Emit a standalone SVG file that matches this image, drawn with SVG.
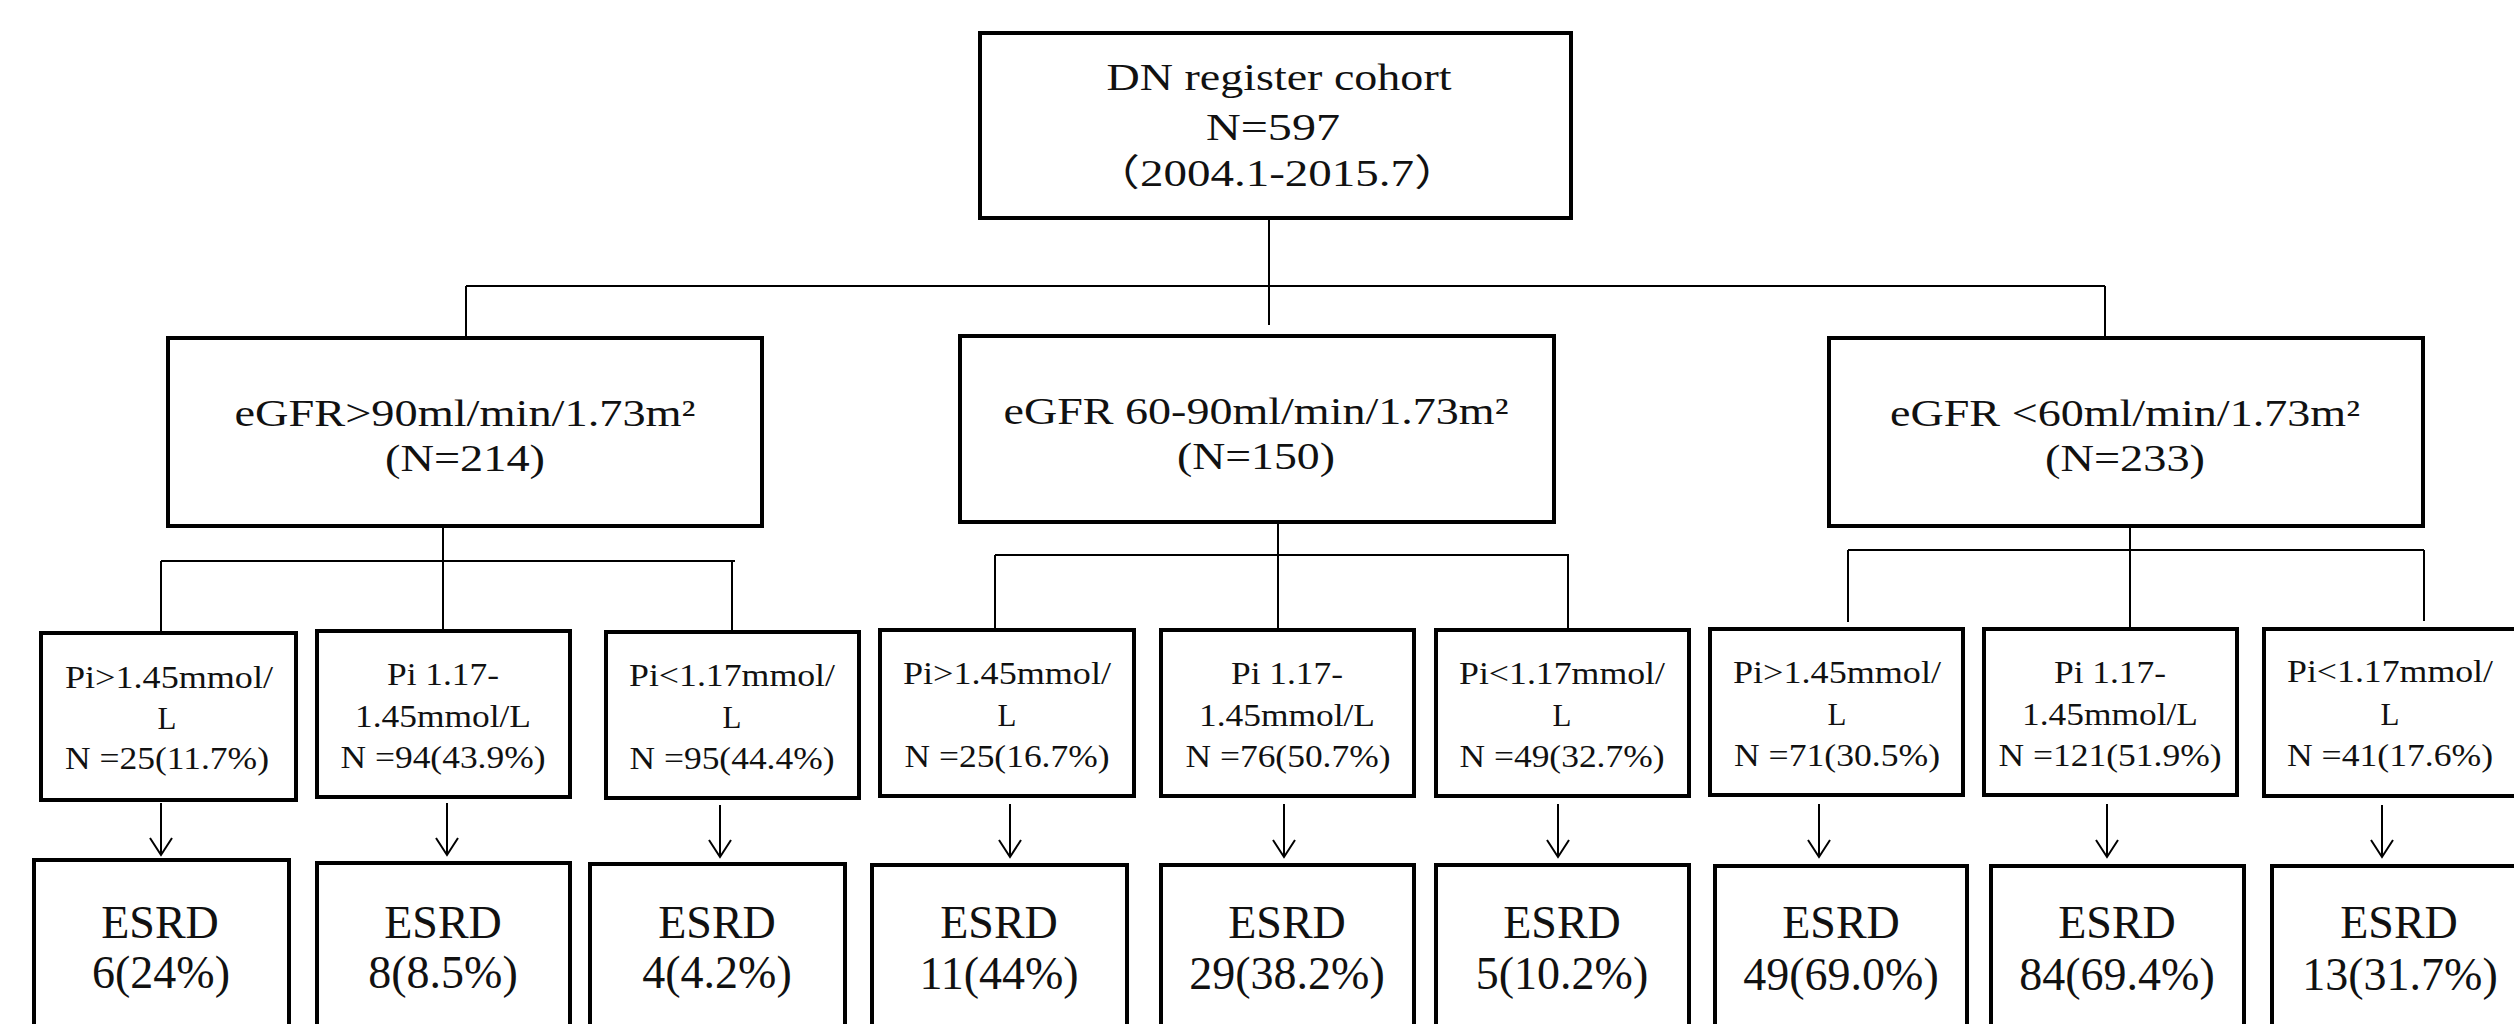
<svg xmlns="http://www.w3.org/2000/svg" width="2514" height="1024" viewBox="0 0 2514 1024">
<style>
.box{fill:#fff;stroke:#000;stroke-width:4}
.ln{fill:none;stroke:#000;stroke-width:2}
.t{font-family:'Liberation Serif','DejaVu Serif','Times New Roman',serif;fill:#111;text-anchor:middle}
.t1{font-size:37px}
.t2{font-size:38px}
.t3{font-size:31px}
.t4{font-size:46px}
</style>
<defs>
<marker id="arr" markerUnits="userSpaceOnUse" markerWidth="26" markerHeight="26" viewBox="-20 -13 24 26" refX="0" refY="0" orient="auto">
<path d="M-17,-11 L0,0 L-17,11" fill="none" stroke="#000" stroke-width="2"/>
</marker>
</defs>
<rect width="2514" height="1024" fill="#fff"/>

<g id="connectors">
<path class="ln" d="M1269,218 V325 M466,286 H2105 M466,286 V337 M2105,286 V337"/>
<path class="ln" d="M443,526 V561 M161,561 H735 M161,561 V631 M443,561 V631 M732,561 V631"/>
<path class="ln" d="M1278,522 V555 M995,555 H1569 M995,555 V629 M1278,555 V629 M1568,555 V629"/>
<path class="ln" d="M2130,526 V550 M1848,550 H2424 M1848,550 V622 M2130,550 V629 M2424,550 V621"/>
<g marker-end="url(#arr)">
<line class="ln" x1="161" y1="803" x2="161" y2="855"/>
<line class="ln" x1="447" y1="803" x2="447" y2="855"/>
<line class="ln" x1="720" y1="805" x2="720" y2="857"/>
<line class="ln" x1="1010" y1="804" x2="1010" y2="857"/>
<line class="ln" x1="1284" y1="804" x2="1284" y2="857"/>
<line class="ln" x1="1558" y1="804" x2="1558" y2="857"/>
<line class="ln" x1="1819" y1="804" x2="1819" y2="857"/>
<line class="ln" x1="2107" y1="804" x2="2107" y2="857"/>
<line class="ln" x1="2382" y1="805" x2="2382" y2="857"/>
</g>
</g>

<g font-family="Liberation Serif, DejaVu Serif, serif">
<g id="root">
<rect class="box" x="980" y="33" width="591" height="185"/>
<text class="t t1" x="1279" y="90" textLength="345" lengthAdjust="spacingAndGlyphs">DN register cohort</text>
<text class="t t1" x="1273" y="140" textLength="134" lengthAdjust="spacingAndGlyphs">N=597</text>
<text class="t t1" x="1277" y="186" style="font-family:'Liberation Serif','Noto Sans CJK SC',serif" textLength="368" lengthAdjust="spacingAndGlyphs">（2004.1-2015.7）</text>
</g>

<g id="egfr1">
<rect class="box" x="168" y="338" width="594" height="188"/>
<text class="t t2" x="465" y="426" textLength="461" lengthAdjust="spacingAndGlyphs">eGFR&gt;90ml/min/1.73m²</text>
<text class="t t2" x="465" y="471" textLength="160" lengthAdjust="spacingAndGlyphs">(N=214)</text>
</g>
<g id="egfr2">
<rect class="box" x="960" y="336" width="594" height="186"/>
<text class="t t2" x="1256" y="424" textLength="505" lengthAdjust="spacingAndGlyphs">eGFR 60-90ml/min/1.73m²</text>
<text class="t t2" x="1256" y="469" textLength="158" lengthAdjust="spacingAndGlyphs">(N=150)</text>
</g>
<g id="egfr3">
<rect class="box" x="1829" y="338" width="594" height="188"/>
<text class="t t2" x="2125" y="426" textLength="470" lengthAdjust="spacingAndGlyphs">eGFR &lt;60ml/min/1.73m²</text>
<text class="t t2" x="2125" y="471" textLength="160" lengthAdjust="spacingAndGlyphs">(N=233)</text>
</g>

<g id="pi1">
<rect class="box" x="41" y="633" width="255" height="167"/>
<text class="t t3" x="169" y="688" textLength="208" lengthAdjust="spacingAndGlyphs">Pi&gt;1.45mmol/</text>
<text class="t t3" x="167" y="729">L</text>
<text class="t t3" x="167" y="769" textLength="204" lengthAdjust="spacingAndGlyphs">N =25(11.7%)</text>
</g>
<g id="pi2">
<rect class="box" x="317" y="631" width="253" height="166"/>
<text class="t t3" x="443" y="685" textLength="112" lengthAdjust="spacingAndGlyphs">Pi 1.17-</text>
<text class="t t3" x="443" y="727" textLength="176" lengthAdjust="spacingAndGlyphs">1.45mmol/L</text>
<text class="t t3" x="443" y="768" textLength="205" lengthAdjust="spacingAndGlyphs">N =94(43.9%)</text>
</g>
<g id="pi3">
<rect class="box" x="606" y="632" width="253" height="166"/>
<text class="t t3" x="732" y="686" textLength="206" lengthAdjust="spacingAndGlyphs">Pi&lt;1.17mmol/</text>
<text class="t t3" x="732" y="728">L</text>
<text class="t t3" x="732" y="769" textLength="205" lengthAdjust="spacingAndGlyphs">N =95(44.4%)</text>
</g>
<g id="pi4">
<rect class="box" x="880" y="630" width="254" height="166"/>
<text class="t t3" x="1007" y="684" textLength="208" lengthAdjust="spacingAndGlyphs">Pi&gt;1.45mmol/</text>
<text class="t t3" x="1007" y="726">L</text>
<text class="t t3" x="1007" y="767" textLength="205" lengthAdjust="spacingAndGlyphs">N =25(16.7%)</text>
</g>
<g id="pi5">
<rect class="box" x="1161" y="630" width="253" height="166"/>
<text class="t t3" x="1287" y="684" textLength="112" lengthAdjust="spacingAndGlyphs">Pi 1.17-</text>
<text class="t t3" x="1287" y="726" textLength="176" lengthAdjust="spacingAndGlyphs">1.45mmol/L</text>
<text class="t t3" x="1288" y="767" textLength="205" lengthAdjust="spacingAndGlyphs">N =76(50.7%)</text>
</g>
<g id="pi6">
<rect class="box" x="1436" y="630" width="253" height="166"/>
<text class="t t3" x="1562" y="684" textLength="206" lengthAdjust="spacingAndGlyphs">Pi&lt;1.17mmol/</text>
<text class="t t3" x="1562" y="726">L</text>
<text class="t t3" x="1562" y="767" textLength="205" lengthAdjust="spacingAndGlyphs">N =49(32.7%)</text>
</g>
<g id="pi7">
<rect class="box" x="1710" y="629" width="253" height="166"/>
<text class="t t3" x="1837" y="683" textLength="208" lengthAdjust="spacingAndGlyphs">Pi&gt;1.45mmol/</text>
<text class="t t3" x="1837" y="725">L</text>
<text class="t t3" x="1837" y="766" textLength="206" lengthAdjust="spacingAndGlyphs">N =71(30.5%)</text>
</g>
<g id="pi8">
<rect class="box" x="1984" y="629" width="253" height="166"/>
<text class="t t3" x="2110" y="683" textLength="112" lengthAdjust="spacingAndGlyphs">Pi 1.17-</text>
<text class="t t3" x="2110" y="725" textLength="176" lengthAdjust="spacingAndGlyphs">1.45mmol/L</text>
<text class="t t3" x="2110" y="766" textLength="223" lengthAdjust="spacingAndGlyphs">N =121(51.9%)</text>
</g>
<g id="pi9">
<rect class="box" x="2264" y="629" width="262" height="167"/>
<text class="t t3" x="2390" y="682" textLength="206" lengthAdjust="spacingAndGlyphs">Pi&lt;1.17mmol/</text>
<text class="t t3" x="2390" y="725">L</text>
<text class="t t3" x="2390" y="766" textLength="206" lengthAdjust="spacingAndGlyphs">N =41(17.6%)</text>
</g>

<g id="esrd1">
<rect class="box" x="34" y="860" width="255" height="190"/>
<text class="t t4" x="160" y="938">ESRD</text>
<text class="t t4" x="161" y="988">6(24%)</text>
</g>
<g id="esrd2">
<rect class="box" x="317" y="863" width="253" height="190"/>
<text class="t t4" x="443" y="938">ESRD</text>
<text class="t t4" x="443" y="988">8(8.5%)</text>
</g>
<g id="esrd3">
<rect class="box" x="590" y="864" width="255" height="190"/>
<text class="t t4" x="717" y="938">ESRD</text>
<text class="t t4" x="717" y="988">4(4.2%)</text>
</g>
<g id="esrd4">
<rect class="box" x="872" y="865" width="255" height="190"/>
<text class="t t4" x="999" y="938">ESRD</text>
<text class="t t4" x="999" y="989">11(44%)</text>
</g>
<g id="esrd5">
<rect class="box" x="1161" y="865" width="253" height="190"/>
<text class="t t4" x="1287" y="938">ESRD</text>
<text class="t t4" x="1287" y="989">29(38.2%)</text>
</g>
<g id="esrd6">
<rect class="box" x="1436" y="865" width="253" height="190"/>
<text class="t t4" x="1562" y="938">ESRD</text>
<text class="t t4" x="1562" y="989">5(10.2%)</text>
</g>
<g id="esrd7">
<rect class="box" x="1715" y="866" width="252" height="190"/>
<text class="t t4" x="1841" y="938">ESRD</text>
<text class="t t4" x="1841" y="990">49(69.0%)</text>
</g>
<g id="esrd8">
<rect class="box" x="1991" y="866" width="253" height="190"/>
<text class="t t4" x="2117" y="938">ESRD</text>
<text class="t t4" x="2117" y="990">84(69.4%)</text>
</g>
<g id="esrd9">
<rect class="box" x="2272" y="866" width="260" height="190"/>
<text class="t t4" x="2399" y="938">ESRD</text>
<text class="t t4" x="2400" y="990">13(31.7%)</text>
</g>
</g>
</svg>
